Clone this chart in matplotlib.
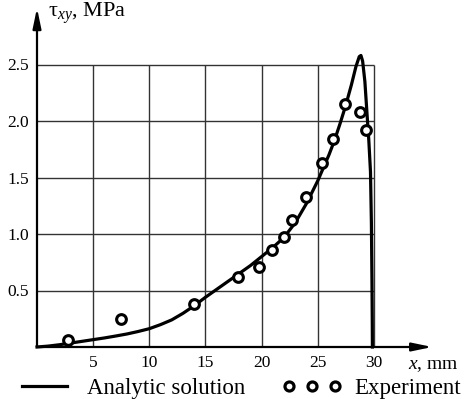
import matplotlib
matplotlib.use("Agg")
import matplotlib.pyplot as plt
from matplotlib.lines import Line2D

plt.rcParams['font.family'] = ['Liberation Serif', 'DejaVu Serif']
plt.rcParams['mathtext.fontset'] = 'custom'
plt.rcParams['mathtext.rm'] = 'Liberation Serif'
plt.rcParams['mathtext.it'] = 'Liberation Serif:italic'

# analytic curve
x_an = [0, 1, 2, 3, 4, 5, 6, 7, 8, 9, 10, 11, 12, 13, 14, 15, 16, 17, 18, 19, 20, 21, 22,
        23, 24, 25, 26, 26.5, 27, 27.5, 28, 28.4, 28.7, 28.85, 29.0, 29.2, 29.4, 29.55,
        29.7, 29.78, 29.83, 29.86, 29.87]
y_an = [0, 0.008, 0.02, 0.035, 0.05, 0.065, 0.08, 0.097, 0.115, 0.137, 0.162, 0.198, 0.24,
        0.298, 0.365, 0.44, 0.51, 0.58, 0.65, 0.72, 0.80, 0.88, 0.97, 1.10, 1.27, 1.47, 1.70,
        1.83, 1.98, 2.14, 2.32, 2.48, 2.57, 2.58, 2.53, 2.35, 2.05, 1.83, 1.55, 1.1, 0.6,
        0.2, 0]

# experiment points
x_exp = [2.8, 7.5, 14.0, 17.9, 19.8, 20.9, 22.0, 22.7, 24.0, 25.4, 26.4, 27.4, 28.8, 29.3]
y_exp = [0.06, 0.25, 0.38, 0.62, 0.71, 0.86, 0.97, 1.12, 1.33, 1.63, 1.84, 2.15, 2.08, 1.92]

xticks = [5, 10, 15, 20, 25, 30]
yticks = [0.5, 1.0, 1.5, 2.0, 2.5]

fig = plt.figure(figsize=(4.66, 3.99), dpi=100)
ax = fig.add_axes([37/466, 52/399, 393/466, 339/399])
ax.set_xlim(0, 35)
ax.set_ylim(0, 3.0)
for s in ax.spines.values():
    s.set_visible(False)

# grid boxes
ax.vlines(xticks, 0, 2.5, color='#333333', lw=1.0)
ax.hlines(yticks, 0, 30, color='#333333', lw=1.0)

# axes with arrows
arrow = dict(arrowstyle='-|>,head_length=1.2,head_width=0.25', color='black', lw=1.6,
             shrinkA=0, shrinkB=0)
ax.annotate('', xy=(35.2, 0), xytext=(0, 0), arrowprops=arrow, annotation_clip=False)
ax.annotate('', xy=(0, 3.0), xytext=(0, 0), arrowprops=arrow, annotation_clip=False)

ax.plot(x_an, y_an, color='black', lw=2.3, solid_joinstyle='round', clip_on=False)
ax.plot(x_exp, y_exp, 'o', mfc='white', mec='black', mew=2.2, ms=7, clip_on=False)

ax.set_xticks(xticks)
ax.set_yticks(yticks)
ax.set_xticklabels([str(v) for v in xticks])
ax.set_yticklabels(['%.1f' % v for v in yticks])
ax.tick_params(length=0, labelsize=12.5, pad=6)

ax.text(0.95, 2.95, r'τ$_{\mathit{xy}}$, MPa', fontsize=16, va='center', ha='left')
ax.text(33.0, -0.16, r'$\mathit{x}$, mm', fontsize=14, va='center', ha='left')

handles = [Line2D([], [], color='black', lw=2.3),
           Line2D([], [], ls='none', marker='o', mfc='white', mec='black', mew=2.3, ms=6.5)]
fig.legend(handles, ['Analytic solution', 'Experiment'], ncol=2, numpoints=3, frameon=False,
           loc='center', bbox_to_anchor=(0.51, 0.027), fontsize=16.5, handlelength=2.6,
           columnspacing=1.6, handletextpad=0.55, borderpad=0)

fig.savefig('out.png', dpi=100)
